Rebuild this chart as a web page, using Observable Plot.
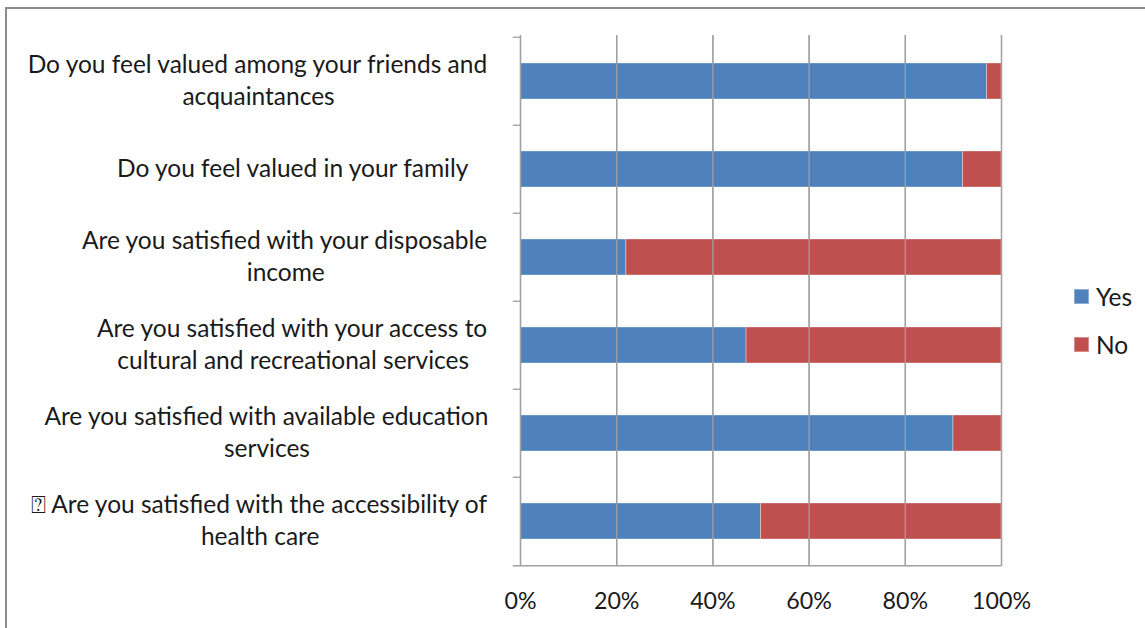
<!DOCTYPE html>
<html><head><meta charset="utf-8">
<script src="https://cdn.jsdelivr.net/npm/d3@7"></script>
<script src="https://cdn.jsdelivr.net/npm/@observablehq/plot@0.6"></script>
<style>
body{margin:0;background:#fff;}
#wrap{position:relative;width:1145px;height:628px;overflow:hidden;font-family:Lato,sans-serif;background:#fff;}
#frame{position:absolute;left:5px;top:7px;width:1300px;height:800px;border-top:2px solid #8c8c8c;border-left:2px solid #8c8c8c;pointer-events:none;}
#chart{position:absolute;left:0;top:0;}
.leg{position:absolute;display:flex;align-items:center;color:#1a1a1a;white-space:nowrap;}
.sw{width:15px;height:15px;margin-right:7px;box-sizing:border-box;}
</style></head><body>
<div id="wrap"><div id="chart"></div><div id="frame"></div></div>
<script>
// ---- data ----
const questions = [
  "Do you feel valued among your friends and acquaintances",
  "Do you feel valued in your family",
  "Are you satisfied with your disposable income",
  "Are you satisfied with your access to cultural and recreational services",
  "Are you satisfied with available education services",
  "\u2370 Are you satisfied with the accessibility of health care"
];
const labelLines = [
  ["Do you feel valued among your friends and", "acquaintances"],
  ["Do you feel valued in your family   "],
  ["Are you satisfied with your disposable", "income"],
  ["Are you satisfied with your access to", "cultural and recreational services"],
  ["Are you satisfied with available education", "services"],
  ["\u2370 Are you satisfied with the accessibility of", "health care"]
];
const series = ["Yes", "No"];
const yesValues = [97, 92, 22, 47, 90, 50];
const noValues = [3, 8, 78, 53, 10, 50];
const xTicks = [0, 20, 40, 60, 80, 100];
const colors = ["#4F81BD", "#C0504D"];

const rows = [];
questions.forEach((q, i) => {
  rows.push({q, resp: "Yes", value: yesValues[i]});
  rows.push({q, resp: "No", value: noValues[i]});
});

// ---- layout ----
const W = 1145, H = 628;
const mL = 520, mR = 144, mT = 35, mB = 62;
const step = (H - mT - mB) / questions.length;
const font = "Lato";
const ctx = document.createElement("canvas").getContext("2d");
function tw(s, size) { ctx.font = `${size}px ${font}`; return ctx.measureText(s).width; }
const catSize = +(100 * 462 / tw(labelLines[0][0], 100)).toFixed(2);
const tickSize = +(100 * 59 / tw("100%", 100)).toFixed(2);
const lineH = 32;
const rightEdge = 489;

const textMarks = [];
questions.forEach((q, i) => {
  const lines = labelLines[i];
  const widths = lines.map(l => tw(l, catSize));
  const maxW = Math.max(...widths);
  const cx = rightEdge - maxW / 2;
  lines.forEach((l, j) => {
    const startX = cx - widths[j] / 2;
    textMarks.push(Plot.text([q], {
      y: d => d,
      text: () => l.trimEnd(),
      frameAnchor: "left",
      textAnchor: "start",
      dx: startX - mL,
      dy: (j - (lines.length - 1) / 2) * lineH,
      fontSize: catSize,
      fill: "#1a1a1a"
    }));
  });
});

const chart = Plot.plot({
  width: W, height: H,
  marginLeft: mL, marginRight: mR, marginTop: mT, marginBottom: mB,
  style: {fontFamily: font, background: "transparent", color: "#1a1a1a"},
  x: {domain: [0, 100], axis: null},
  y: {domain: questions, paddingInner: 0.593, paddingOuter: 0.2965, axis: null},
  color: {domain: series, range: colors},
  marks: [
    Plot.ruleX(xTicks.filter(t => t > 0), {x: d => d, stroke: "#a6a6a6", strokeWidth: 1.3}),
    Plot.barX(rows, Plot.stackX({x: "value", y: "q", fill: "resp", order: series, stroke: "#ffffff", strokeOpacity: 0.35, strokeWidth: 1})),
    Plot.ruleX([0], {x: d => d, stroke: "#a0a0a0", strokeWidth: 1.3}),
    Plot.ruleY(questions, {y: d => d, x1: -1.5, x2: 0, dy: -step / 2, stroke: "#a0a0a0", strokeWidth: 1.3}),
    Plot.ruleY([questions[questions.length - 1]], {y: d => d, x1: -1.5, x2: 100, dy: step / 2, stroke: "#a0a0a0", strokeWidth: 1.3}),
    Plot.tickX(xTicks, {x: d => d, y1: H - mB, y2: H - mB + 9, stroke: "#a0a0a0", strokeWidth: 1.3}),
    Plot.text(xTicks, {x: d => d, text: d => d + "%", frameAnchor: "bottom", dy: 42, fontSize: tickSize, fill: "#1a1a1a"}),
    ...textMarks
  ]
});
document.getElementById("chart").appendChild(chart);

// legend
const wrap = document.getElementById("wrap");
series.forEach((s, i) => {
  const d = document.createElement("div");
  d.className = "leg";
  d.style.left = "1074px";
  d.style.top = (280 + i * 48) + "px";
  d.style.height = "32px";
  d.style.fontSize = catSize + "px";
  const sw = document.createElement("div");
  sw.className = "sw";
  sw.style.background = colors[i];
  sw.style.border = "1px solid rgba(255,255,255,0.35)";
  d.appendChild(sw);
  const t = document.createElement("span");
  t.textContent = s;
  d.appendChild(t);
  wrap.appendChild(d);
});
</script>
</body></html>
